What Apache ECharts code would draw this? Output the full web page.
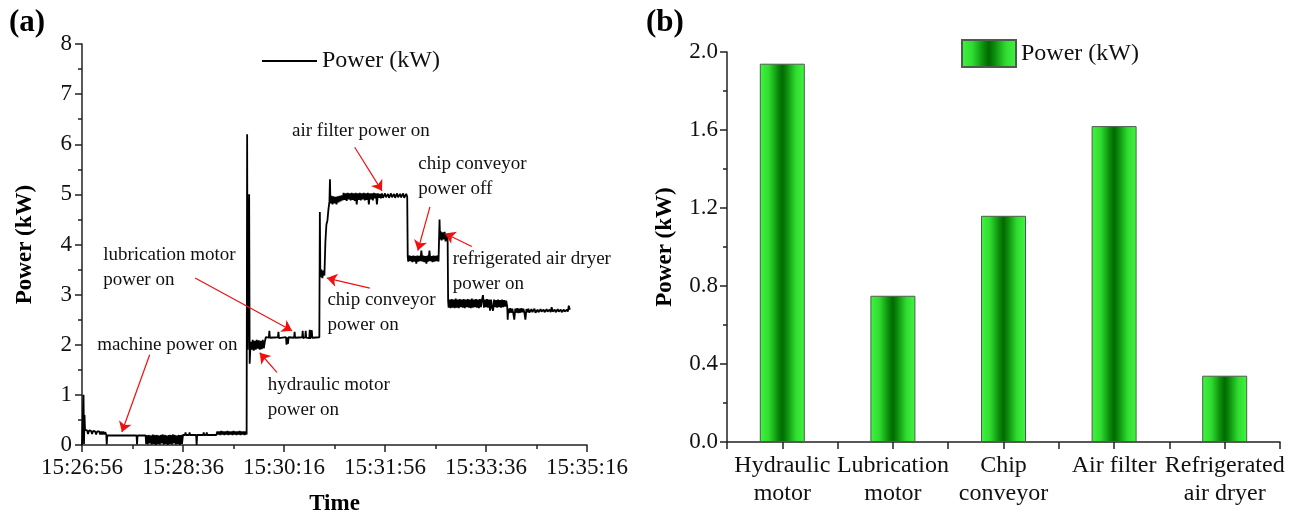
<!DOCTYPE html>
<html>
<head>
<meta charset="utf-8">
<title>Machine power</title>
<script src="https://cdn.jsdelivr.net/npm/echarts@6/dist/echarts.min.js"></script>
<style>
  html, body { margin: 0; padding: 0; background: #fff; }
  #main { width: 1293px; height: 521px; }
</style>
</head>
<body>
<div id="main"></div>
<script>
// (a) power trace: [seconds after 15:26:56, kW]
const powerTrace = [
  [0,0],[1.5,1.0],[2,0.02],[2.5,0.6],[3,0.3],[5,0.29],[6,0.22],[7,0.29],[9,0.28],[10,0.22],[11,0.28],[13,0.27],[14,0.21],[15,0.27],[17,0.27],[18,0.21],[19,0.27],[20,0.21],[21,0.27],[22,0.21],[23,0.26],[24,0.21],[24.5,0.01],[25,0.19],
  [54,0.19],[54.5,0.01],[55,0.19],[63,0.19],
  [63.5,0.02],[64,0.2],[65,0.01],[66,0.2],[67,0.03],[68,0.19],[69,0.01],[70,0.21],[71,0.02],[72,0.2],[73,0.0],[74,0.2],[75,0.02],[76,0.19],[77,0.01],[78,0.2],[79,0.03],[80,0.21],[81,0.01],[82,0.2],[83,0.02],[84,0.19],[85,0.0],[86,0.2],[87,0.02],[88,0.2],[89,0.01],[90,0.21],[91,0.03],[92,0.2],[93,0.01],[94,0.19],[95,0.02],[96,0.2],[97,0.0],[98,0.2],[99,0.02],[100,0.2],
  [102,0.2],[102.5,0.25],[103,0.2],[106,0.2],[106.5,0.25],[107,0.2],[113,0.2],[113.5,0.0],[114,0.2],[120,0.2],[120.5,0.25],[121,0.2],[123,0.2],[123.5,0.25],[124,0.2],[133,0.2],
  [134,0.27],[135,0.21],[136,0.27],[137,0.2],[138,0.28],[139,0.21],[140,0.27],[141,0.2],[142,0.27],[143,0.21],[144,0.28],[145,0.2],[146,0.27],[147,0.21],[148,0.27],[149,0.2],[150,0.28],[151,0.21],[152,0.27],[153,0.2],[154,0.27],[155,0.21],[156,0.28],[157,0.2],[158,0.27],[159,0.21],[160,0.27],[161,0.2],[162,0.27],[163,0.21],
  [163.5,6.2],[164,1.9],[165.5,5.0],[166,1.62],[167,2.06],[168,1.9],[169,2.1],[170,1.88],[171,2.08],[172,1.9],[173,2.1],[174,1.92],[175,2.09],[176,1.9],[177,2.08],[178,1.91],[179,2.1],[180,1.93],[181,2.06],
  [182,2.15],[185,2.14],[185.5,2.28],[186,2.14],[194,2.15],[194.5,2.26],[195,2.13],[202,2.15],[202.5,2.0],[203,2.15],[204,2.02],[204.5,2.15],[210,2.14],[210.5,2.26],[211,2.14],[218,2.15],[218.5,2.28],[219,2.13],[221,2.15],[221.5,2.28],[222,2.14],[225,2.13],[225.5,2.3],[226,2.12],[227.5,2.29],[228,2.14],[235,2.15],
  [235.5,4.65],[236,3.35],[237,3.5],[238,3.33],[239,3.48],[240,3.38],[241,4.06],[242,4.4],[243,4.48],[244,4.7],[245,4.86],[245.5,5.3],[246,4.82],[247,4.97],[248,4.8],[249,4.96],[250,4.82],[251,4.95],[252,4.8],[253,4.96],[254,4.84],[255,4.97],[256,4.86],[257,4.98],
  [258,4.88],[259,5.03],[260,4.89],[261,5.02],[262,4.87],[263,5.03],[264,4.9],[265,5.02],[266,4.88],[267,5.03],[268,4.89],[269,5.02],[270,4.87],[271,5.03],[272,4.8],[273,5.02],[274,4.89],[275,5.03],[276,4.88],[277,5.02],[278,4.9],[279,5.03],[280,4.88],[281,5.02],[282,4.89],[283,5.03],[284,4.8],[285,5.02],[286,4.9],[287,5.02],[288,4.88],[289,5.03],[290,4.92],[291,5.02],[292,4.8],[293,5.02],[294,4.93],[295,5.01],[296,4.92],[297,5.02],[298,4.93],[300,5.02],[301,4.94],[303,5.01],[304,4.93],[306,5.02],[307,4.94],[309,5.01],[310,4.93],[312,5.02],[313,4.94],[315,5.01],[316,4.94],[318,5.02],[319,4.93],[321,5.01],[322,4.95],
  [322.5,3.76],[323,3.66],[324,3.78],[325,3.67],[326,3.77],[327,3.65],[328,3.78],[329,3.66],[330,3.77],[331,3.62],[332,3.78],[333,3.66],[334,3.77],[335,3.67],[336,3.88],[337,3.66],[338,3.78],[339,3.65],[340,3.77],[341,3.62],[342,3.78],[343,3.66],[344,3.88],[345,3.67],[346,3.77],[347,3.65],[348,3.78],[349,3.66],[350,3.77],[351,3.67],[352,3.78],[353,3.66],
  [354,4.5],[354.5,4.1],[355,4.26],[356,4.08],[357,4.24],[358,4.1],[359,4.25],[360,4.06],[361,4.2],[362,4.12],
  [362.5,2.88],[363,2.74],[364,2.9],[365,2.73],[366,2.91],[367,2.74],[368,2.9],[369,2.73],[370,2.92],[371,2.74],[372,2.9],[373,2.73],[374,2.91],[375,2.75],[376,2.9],[377,2.74],[378,2.91],[379,2.73],[380,2.9],[381,2.75],[382,2.91],[383,2.74],[384,2.9],[385,2.73],[386,2.92],[387,2.74],[388,2.9],[389,2.75],[390,2.91],[391,2.74],[392,2.9],[393,2.73],[394,2.91],[395,2.75],[396,2.9],[397,2.99],[398,2.74],[399,2.9],[400,2.75],[401,2.91],[402,2.74],[403,2.9],[404,2.68],[405,2.9],[406,2.74],[407,2.68],[408,2.9],[409,2.75],[410,2.89],[411,2.74],[412,2.9],[413,2.75],[414,2.89],[415,2.74],[416,2.9],[417,2.75],[418,2.89],[419,2.76],[420,2.88],[421,2.76],
  [421.5,2.5],[422,2.72],[423,2.63],[424,2.73],[425,2.64],[426,2.72],[427,2.63],[428,2.5],[429,2.72],[430,2.64],[431,2.73],[432,2.63],[433,2.72],[434,2.64],[435,2.73],[436,2.65],[437,2.72],[438,2.64],[439,2.5],[440,2.71],[441,2.65],[442,2.72],[443,2.64],[445,2.71],[446,2.65],[448,2.72],[449,2.64],[451,2.7],[452,2.65],[454,2.71],[455,2.66],[457,2.7],[458,2.65],[460,2.71],[461,2.66],[463,2.7],[464,2.65],[465,2.75],[466,2.66],[468,2.7],[469,2.65],[471,2.71],[472,2.66],[474,2.7],[475,2.65],[477,2.7],[478,2.66],[480,2.7],[481,2.66],[482,2.78],[483,2.7]
];

// (a) annotations
const noteTexts = [
  'machine power on',
  'lubrication motor\npower on',
  'hydraulic motor\npower on',
  'chip conveyor\npower on',
  'air filter power on',
  'chip conveyor\npower off',
  'refrigerated air dryer\npower on'
];
const noteAt = [[15, 2.0], [21, 3.54], [184, 0.95], [243, 2.65], [208, 6.26], [333, 5.35], [367, 3.47]];
const arrowFrom = [[67, 1.8], [112, 3.33], [193, 1.45], [285, 3.13], [270, 5.94], [344.5, 4.75], [386, 3.96]];
const arrowTo = [[39.5, 0.26], [208, 2.28], [176, 1.84], [242.5, 3.33], [297, 5.07], [332.5, 3.88], [359.5, 4.22]];

// (b) bars
const devices = ['Hydraulic\nmotor', 'Lubrication\nmotor', 'Chip\nconveyor', 'Air filter', 'Refrigerated\nair dryer'];
const devicePower = [1.94, 0.75, 1.16, 1.62, 0.34];

const serif = "'Liberation Serif', 'Times New Roman', serif";
const startSec = 15 * 3600 + 26 * 60 + 56;

function clock(s) {
  let t = startSec + s;
  let h = Math.floor(t / 3600), m = Math.floor(t % 3600 / 60), sec = t % 60;
  return h + ':' + String(m).padStart(2, '0') + ':' + String(sec).padStart(2, '0');
}

const barFill = {
  type: 'linear', x: 0, y: 0, x2: 1, y2: 0,
  colorStops: [
    { offset: 0, color: '#40f540' },
    { offset: 0.2, color: '#30dc30' },
    { offset: 0.4, color: '#0c8c0c' },
    { offset: 0.5, color: '#006a00' },
    { offset: 0.6, color: '#0c8c0c' },
    { offset: 0.8, color: '#30dc30' },
    { offset: 1, color: '#40f540' }
  ]
};

const axisBase = {
  axisLine: { show: true, lineStyle: { color: '#222', width: 1.5 } },
  axisTick: { show: true, inside: false, length: 7, lineStyle: { color: '#222', width: 1.5 } },
  splitLine: { show: false },
  axisLabel: { color: '#111', fontFamily: serif, fontSize: 23 }
};

const chart = echarts.init(document.getElementById('main'));
chart.setOption({
  animation: false,
  backgroundColor: '#fff',
  title: [
    { text: '(a)', left: 4, top: 2, textStyle: { fontFamily: serif, fontSize: 31, fontWeight: 'bold', color: '#000' } },
    { text: '(b)', left: 641, top: 2, textStyle: { fontFamily: serif, fontSize: 31, fontWeight: 'bold', color: '#000' } }
  ],
  legend: [
    {
      data: [{ name: 'Power (kW)', icon: 'rect', itemStyle: { color: '#000' } }],
      left: 257, top: 44, itemWidth: 55, itemHeight: 2, itemGap: 7,
      textStyle: { fontFamily: serif, fontSize: 24, color: '#111' },
      selectedMode: false
    },
    {
      data: [{ name: 'Power (kW) ', icon: 'rect' }],
      left: 956, top: 34, itemWidth: 54, itemHeight: 27, itemGap: 6,
      textStyle: { fontFamily: serif, fontSize: 24, color: '#111' },
      selectedMode: false
    }
  ],
  grid: [
    { left: 82, right: 706, top: 44, bottom: 73 },
    { left: 727, right: 13, top: 52, bottom: 79 }
  ],
  xAxis: [
    Object.assign({}, axisBase, {
      type: 'value', gridIndex: 0, min: 0, max: 500, interval: 100,
      minorTick: { show: true, splitNumber: 2, length: 4, lineStyle: { color: '#222', width: 1.5 } },
      axisLabel: Object.assign({}, axisBase.axisLabel, { margin: 11, formatter: clock }),
      name: 'Time', nameLocation: 'middle', nameGap: 48,
      nameTextStyle: { fontFamily: serif, fontSize: 23, fontWeight: 'bold', color: '#000' }
    }),
    Object.assign({}, axisBase, {
      type: 'category', gridIndex: 1, data: devices,
      axisTick: Object.assign({}, axisBase.axisTick, { alignWithLabel: true }),
      axisLabel: Object.assign({}, axisBase.axisLabel, { fontSize: 24, lineHeight: 28, margin: 10, interval: 0 })
    }),
    {
      type: 'category', gridIndex: 1, data: devices, position: 'bottom',
      axisLine: { show: false },
      axisTick: { show: true, length: 7, lineStyle: { color: '#222', width: 1.5 } },
      axisLabel: { show: false },
      splitLine: { show: false }
    }
  ],
  yAxis: [
    Object.assign({}, axisBase, {
      type: 'value', gridIndex: 0, min: 0, max: 8, interval: 1,
      minorTick: { show: true, splitNumber: 2, length: 4, lineStyle: { color: '#222', width: 1.5 } },
      axisLabel: Object.assign({}, axisBase.axisLabel, { margin: 10 }),
      name: 'Power (kW)', nameLocation: 'middle', nameGap: 45,
      nameTextStyle: { fontFamily: serif, fontSize: 23, fontWeight: 'bold', color: '#000' }
    }),
    Object.assign({}, axisBase, {
      type: 'value', gridIndex: 1, min: 0, max: 2.0, interval: 0.4,
      minorTick: { show: true, splitNumber: 2, length: 4, lineStyle: { color: '#222', width: 1.5 } },
      axisLabel: Object.assign({}, axisBase.axisLabel, { margin: 9, formatter: v => v.toFixed(1) }),
      name: 'Power (kW)', nameLocation: 'middle', nameGap: 50,
      nameTextStyle: { fontFamily: serif, fontSize: 23, fontWeight: 'bold', color: '#000' }
    })
  ],
  series: [
    {
      name: 'Power (kW)',
      type: 'line',
      xAxisIndex: 0, yAxisIndex: 0,
      data: powerTrace,
      symbol: 'none',
      sampling: false,
      lineStyle: { color: '#000', width: 1.8 },
      itemStyle: { color: '#000' },
      markLine: {
        silent: true,
        symbol: ['none', 'arrow'],
        symbolSize: 10,
        lineStyle: { color: '#f01010', width: 1.2, type: 'solid' },
        label: { show: false },
        data: arrowFrom.map((p, i) => [{ coord: p }, { coord: arrowTo[i] }])
      },
      markPoint: {
        silent: true,
        symbol: 'circle',
        symbolSize: 0,
        label: {
          show: true, position: 'right', distance: 0,
          fontFamily: serif, fontSize: 19, lineHeight: 25, color: '#111',
          formatter: p => p.name
        },
        data: noteTexts.map((t, i) => ({ name: t, coord: noteAt[i] }))
      }
    },
    {
      name: 'Power (kW) ',
      type: 'bar',
      xAxisIndex: 1, yAxisIndex: 1,
      data: devicePower,
      barWidth: 45,
      itemStyle: { color: barFill, borderColor: '#4b5e4b', borderWidth: 1 }
    }
  ]
});
</script>
</body>
</html>
